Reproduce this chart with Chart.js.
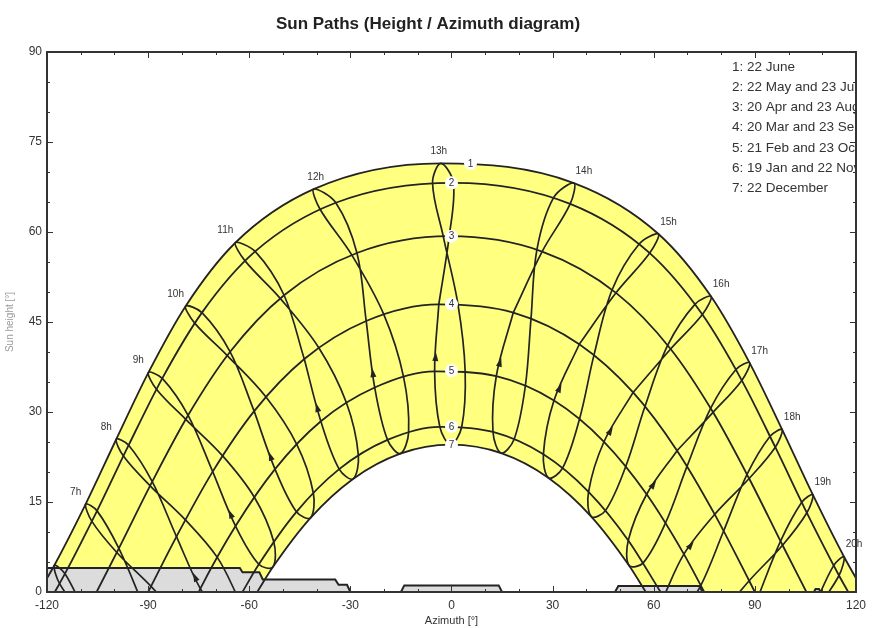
<!DOCTYPE html>
<html>
<head>
<meta charset="utf-8">
<script src="https://cdn.jsdelivr.net/npm/chart.js@4.4.1/dist/chart.umd.min.js"></script>
<style>
  html, body { margin: 0; padding: 0; background: #fff; }
</style>
</head>
<body>
<canvas id="sunChart" width="872" height="628"></canvas>
<script>
// legal hours shown on the hour lines
const hours = [6, 7, 8, 9, 10, 11, 12, 13, 14, 15, 16, 17, 18, 19, 20];

// sun position [azimuth, height] at each hour, null = not plotted
const jun22 = [[-117.85, 4.42], [-108.53, 14.66], [-99.45, 25.46], [-89.93, 36.56], [-78.88, 47.64], [-64.13, 58.21], [-40.89, 67.14], [-3.17, 71.44], [36.31, 68.16], [61.41, 59.67], [77.02, 49.24], [88.44, 38.20], [98.10, 27.08], [107.19, 16.22], [116.45, 5.88]];
const may22 = [[-114.66, 3.05], [-105.15, 13.52], [-95.78, 24.47], [-85.80, 35.61], [-74.03, 46.56], [-58.25, 56.76], [-34.33, 64.88], [0.57, 68.20], [35.21, 64.69], [58.81, 56.48], [74.43, 46.24], [86.12, 35.27], [96.06, 24.13], [105.43, 13.20], [114.96, 2.75]];
const jul23 = [[-116.26, 1.40], [-106.68, 11.77], [-97.33, 22.66], [-87.53, 33.79], [-76.19, 44.81], [-61.24, 55.19], [-38.99, 63.80], [-5.62, 68.13], [30.25, 65.68], [55.73, 58.03], [72.27, 47.99], [84.39, 37.09], [94.51, 25.95], [103.91, 14.95], [113.36, 4.40]];
const apr20 = [[-108.66, -3.54], [-98.68, 7.27], [-88.78, 18.39], [-78.14, 29.45], [-65.67, 40.03], [-49.67, 49.46], [-28.05, 56.50], [-0.67, 59.30], [26.89, 56.74], [48.81, 49.86], [65.01, 40.51], [77.60, 29.95], [88.30, 18.91], [98.22, 7.79], [108.18, -3.05]];
const aug23 = [[-109.30, -4.19], [-99.29, 6.59], [-89.40, 17.70], [-78.84, 28.77], [-66.53, 39.41], [-50.82, 48.94], [-29.60, 56.18], [-2.45, 59.28], [25.34, 57.06], [47.66, 50.38], [64.15, 41.13], [76.90, 30.63], [87.68, 19.60], [97.62, 8.47], [107.60, -2.39]];
const mar20 = [null, [-91.69, -1.88], [-81.59, 9.24], [-70.84, 20.06], [-58.54, 30.14], [-43.67, 38.83], [-25.31, 45.17], [-3.77, 47.94], [18.33, 46.57], [37.91, 41.29], [53.88, 33.26], [66.92, 23.56], [78.09, 12.94], [88.31, 1.88], null];
const sep23 = [null, [-89.15, 0.95], [-78.95, 12.02], [-67.89, 22.69], [-55.03, 32.49], [-39.33, 40.68], [-20.06, 46.22], [1.91, 47.98], [23.58, 45.52], [42.25, 39.44], [57.39, 30.91], [69.87, 20.93], [80.73, 10.16], [90.85, -0.95], null];
const feb21 = [null, null, [-74.51, 0.56], [-64.06, 10.99], [-52.36, 20.48], [-38.76, 28.46], [-22.78, 34.08], [-5.00, 36.77], [13.28, 35.96], [30.40, 31.90], [45.24, 25.04], [57.90, 16.29], [68.95, 6.32], [78.99, -4.46], null];
const oct23 = [null, [-79.51, -5.02], [-69.48, 5.77], [-58.48, 15.79], [-45.91, 24.61], [-31.20, 31.57], [-14.21, 35.82], [4.05, 36.81], [21.90, 34.30], [37.96, 28.79], [51.69, 20.92], [63.48, 11.50], [73.98, 1.11], null, null];
const jan19 = [null, null, [-67.18, -5.25], [-57.15, 4.62], [-46.00, 13.36], [-33.32, 20.48], [-18.98, 25.35], [-3.46, 27.53], [12.31, 26.67], [27.26, 22.94], [40.66, 16.70], [52.45, 8.60], [62.90, -0.83], null, null];
const nov22 = [null, null, [-63.16, -1.10], [-52.73, 8.36], [-40.99, 16.50], [-27.63, 22.79], [-12.72, 26.60], [3.04, 27.54], [18.58, 25.45], [32.95, 20.63], [45.67, 13.56], [56.87, 4.86], [66.92, -4.98], null, null];
const dec22 = [null, null, null, [-52.99, 4.16], [-41.82, 12.36], [-29.21, 18.85], [-15.18, 23.07], [-0.23, 24.56], [14.74, 23.15], [28.81, 19.01], [41.46, 12.58], [52.67, 4.42], null, null, null];

// sunrise / sunset azimuth and noon height of the 7 date curves
const sunsetAz = [122.36, 117.69, 105.29, 90.0, 74.98, 62.03, 57.64];
const noonHeight = [71.44, 68.20, 59.30, 48.0, 36.9, 27.6, 24.56];

// far horizon line
const horizonAz = [-120, -62.8, -62, -57, -56, -34.5, -33.5, -31, -30, -15, -14, 14, 15, 48.5, 49.5, 73.5, 74.5, 107.5, 108, 109, 109.5, 120];
const horizonH = [4.0, 4.0, 3.3, 3.3, 2.1, 2.1, 1.2, 1.2, 0, 0, 1.1, 1.1, 0, 0, 1.0, 1.0, 0, 0, 0.5, 0.5, 0, 0];

const legendLines = [
    '1: 22 June',
    '2: 22 May and 23 July',
    '3: 20 Apr and 23 Aug',
    '4: 20 Mar and 23 Sep',
    '5: 21 Feb and 23 Oct',
    '6: 19 Jan and 22 Nov',
    '7: 22 December'
];

const FONT = "'Liberation Sans', Arial, sans-serif";
const INK = '#232323';

const firstHalf = [jun22, may22, apr20, mar20, feb21, jan19, dec22];   // June back to December
const secondHalf = [jun22, jul23, aug23, sep23, oct23, nov22, dec22];  // June on to December
// a whole year as one loop, started in March so June and December get smooth turns
const yearLoop = [mar20, apr20, may22, jun22, jul23, aug23, sep23, oct23, nov22, dec22, jan19, feb21, mar20];

const toXY = pts => pts.map(p => ({ x: p[0], y: p[1] }));

// a date curve: sunrise, the hours above the horizon, sunset
function datePath(i) {
    const row = firstHalf[i].filter(p => p && p[1] > 0);
    return toXY([[-sunsetAz[i], 0]].concat(row, [[sunsetAz[i], 0]]));
}

// one half of an hour line starting at June, stopped once it is under the horizon
function hourBranch(rows, k) {
    const out = [];
    for (const r of rows) {
        const p = r[k];
        if (!p) break;
        out.push(p);
        if (p[1] < 0) break;
    }
    return out;
}

function hourLine(k) {
    const a = hourBranch(firstHalf, k);
    const b = hourBranch(secondHalf, k);
    if (a.length === 7 && b.length === 7) return toXY(yearLoop.map(r => r[k]));
    return toXY(a.slice().reverse().concat(b.slice(1)));
}

const datasets = [];

// yellow band between June and December, white under December
datasets.push({ data: datePath(0), showLine: true, borderWidth: 0, fill: 'origin', backgroundColor: '#ffff80', cubicInterpolationMode: 'monotone', order: 5 });
datasets.push({ data: datePath(6), showLine: true, borderWidth: 0, fill: 'origin', backgroundColor: '#ffffff', cubicInterpolationMode: 'monotone', order: 4 });

// horizon
datasets.push({
    data: horizonAz.map((a, i) => ({ x: a, y: horizonH[i] })),
    showLine: true, borderColor: INK, borderWidth: 2, fill: 'origin', backgroundColor: '#dcdcdc', order: 3
});

// 7 date curves
for (let i = 0; i < 7; i++) {
    datasets.push({ data: datePath(i), showLine: true, borderColor: INK, borderWidth: 1.8, cubicInterpolationMode: 'monotone', order: 1 });
}

// hour lines
hours.forEach((hr, k) => {
    datasets.push({ data: hourLine(k), showLine: true, borderColor: INK, borderWidth: 1.7, tension: 0.35, order: 1 });
});

const overlay = {
    id: 'overlay',
    afterDatasetsDraw(chart) {
        const { ctx, chartArea: a, scales: { x, y } } = chart;
        const px = p => [x.getPixelForValue(p[0]), y.getPixelForValue(p[1])];

        // arrows on the Feb -> Mar part of each hour line
        ctx.save();
        ctx.beginPath();
        ctx.rect(a.left, a.top, a.right - a.left, a.bottom - a.top);
        ctx.clip();
        ctx.fillStyle = INK;
        hours.forEach((hr, k) => {
            if (!feb21[k] || !mar20[k]) return;
            const [x0, y0] = px(feb21[k]);
            const [x1, y1] = px(mar20[k]);
            const d = Math.hypot(x1 - x0, y1 - y0);
            const ux = (x1 - x0) / d, uy = (y1 - y0) / d;
            const cx = x0 + (x1 - x0) * 0.2, cy = y0 + (y1 - y0) * 0.2;
            ctx.beginPath();
            ctx.moveTo(cx + ux * 6, cy + uy * 6);
            ctx.lineTo(cx - ux * 3 - uy * 3, cy - uy * 3 + ux * 3);
            ctx.lineTo(cx - ux * 3 + uy * 3, cy - uy * 3 - ux * 3);
            ctx.closePath();
            ctx.fill();
        });

        // legend text, cut by the frame
        ctx.fillStyle = '#333';
        ctx.font = '13.5px ' + FONT;
        ctx.textAlign = 'left';
        ctx.textBaseline = 'middle';
        legendLines.forEach((t, i) => ctx.fillText(t, 732, 67 + i * 20.2));
        ctx.restore();

        // hour labels above the June curve
        ctx.save();
        ctx.fillStyle = '#333';
        ctx.font = '10px ' + FONT;
        ctx.textAlign = 'center';
        ctx.textBaseline = 'middle';
        hours.forEach((hr, k) => {
            if (hr < 7) return;
            const [hx, hy] = px(jun22[k]);
            const dx = hr <= 11 ? -10 : hr === 12 ? 2 : hr === 13 ? -2 : 10;
            ctx.fillText(hr + 'h', hx + dx, hy - 12);
        });

        // numbers of the date curves
        noonHeight.forEach((h, i) => {
            const cx = x.getPixelForValue(0) + (i === 0 ? 19 : 0);
            const cy = y.getPixelForValue(h);
            ctx.fillStyle = '#fff';
            ctx.beginPath();
            ctx.arc(cx, cy, 6.5, 0, Math.PI * 2);
            ctx.fill();
            ctx.fillStyle = '#333';
            ctx.fillText(String(i + 1), cx, cy + 0.5);
        });
        ctx.restore();
    },
    afterDraw(chart) {
        const { ctx, chartArea: a, scales: { x, y } } = chart;
        ctx.save();
        ctx.strokeStyle = '#333';
        ctx.lineWidth = 1;
        ctx.beginPath();
        for (let v = 0; v <= 90; v += 5) {
            const py = Math.round(y.getPixelForValue(v)) + 0.5;
            const len = v % 15 === 0 ? 6 : 3;
            ctx.moveTo(a.left, py); ctx.lineTo(a.left + len, py);
            ctx.moveTo(a.right, py); ctx.lineTo(a.right - len, py);
        }
        for (let v = -120; v <= 120; v += 10) {
            const pxv = Math.round(x.getPixelForValue(v)) + 0.5;
            const len = v % 30 === 0 ? 6 : 3;
            ctx.moveTo(pxv, a.bottom); ctx.lineTo(pxv, a.bottom - len);
            ctx.moveTo(pxv, a.top); ctx.lineTo(pxv, a.top + len);
        }
        ctx.stroke();
        ctx.lineWidth = 2;
        ctx.strokeRect(a.left, a.top, a.right - a.left, a.bottom - a.top);

        ctx.fillStyle = '#222';
        ctx.font = 'bold 17px ' + FONT;
        ctx.textAlign = 'center';
        ctx.textBaseline = 'middle';
        ctx.fillText('Sun Paths (Height / Azimuth diagram)', 428, 24);
        ctx.restore();
    }
};

new Chart(document.getElementById('sunChart'), {
    type: 'scatter',
    data: { datasets: datasets },
    options: {
        responsive: false,
        animation: false,
        devicePixelRatio: 1,
        layout: { padding: { left: 0, top: 52, right: 13, bottom: 0 } },
        elements: {
            point: { radius: 0, hoverRadius: 0 },
            line: { capBezierPoints: false }
        },
        plugins: {
            legend: { display: false },
            tooltip: { enabled: false },
            title: { display: false }
        },
        scales: {
            x: {
                type: 'linear', min: -120, max: 120,
                grid: { display: false, drawTicks: false },
                border: { display: false },
                ticks: { stepSize: 30, padding: 6, color: '#333', font: { family: FONT, size: 12 } },
                title: { display: true, text: 'Azimuth [°]', color: '#333', font: { family: FONT, size: 11 }, padding: { top: 0, bottom: 0 } },
                afterFit: s => { s.height = 36; }
            },
            y: {
                type: 'linear', min: 0, max: 90,
                grid: { display: false, drawTicks: false },
                border: { display: false },
                ticks: { stepSize: 15, padding: 5, color: '#333', font: { family: FONT, size: 12 } },
                title: { display: true, text: 'Sun height [°]', color: '#999', font: { family: FONT, size: 10 }, padding: { top: 4, bottom: 0 } },
                afterFit: s => { s.width = 47; }
            }
        }
    },
    plugins: [overlay]
});
</script>
</body>
</html>
